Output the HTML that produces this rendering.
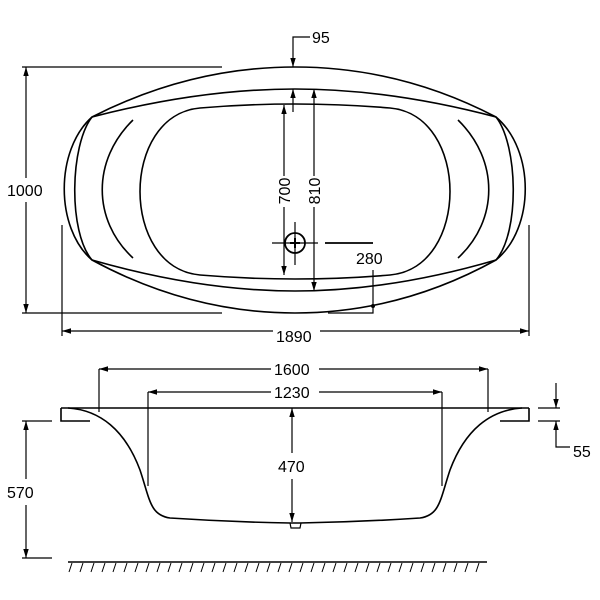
<!DOCTYPE html>
<html><head><meta charset="utf-8"><style>
html,body{margin:0;padding:0;background:#fff;}
svg{display:block}
text{font-family:"Liberation Sans",Arial,sans-serif;font-size:16px;fill:#000}
</style></head><body>
<svg width="600" height="600" viewBox="0 0 600 600" xmlns="http://www.w3.org/2000/svg">
<defs>
<marker id="a" viewBox="0 0 10 10" refX="10" refY="5" markerWidth="9" markerHeight="9" orient="auto-start-reverse" markerUnits="userSpaceOnUse"><path d="M0,2 L10,5 L0,8 z" fill="#000"/></marker>
</defs>
<g fill="none" stroke="#000" stroke-width="1.6">
<path d="M92,117 Q190,67 295,67 Q400,67 496,117 C535,150 535,228 496,260 Q400,313 295,313 Q190,313 92,260 C55,228 55,150 92,117 Z"/>
<path d="M92,117 C70,145 68,232 92,260"/>
<path d="M496,117 C518,145 520,232 496,260"/>
<path d="M92,117 Q200,89 295,89 Q390,89 496,117"/>
<path d="M92,260 Q200,291 295,291 Q390,291 496,260"/>
<path d="M133,120 C92,160 92,220 133,258"/>
<path d="M458,120 C499,160 499,220 458,258"/>
<path d="M200,108 Q295,100 390,108 C470,115 470,268 390,275 Q295,283 200,275 C120,268 120,115 200,108 Z"/>
</g>
<g stroke="#000" stroke-width="1.2" fill="none">
<polyline points="310,37 293,37 293,67" marker-end="url(#a)"/>
<line x1="293" y1="112" x2="293" y2="89" marker-end="url(#a)"/>
<line x1="284" y1="176" x2="284" y2="105" marker-end="url(#a)"/>
<line x1="284" y1="207" x2="284" y2="275" marker-end="url(#a)"/>
<line x1="314" y1="176" x2="314" y2="89" marker-end="url(#a)"/>
<line x1="314" y1="207" x2="314" y2="291" marker-end="url(#a)"/>
<circle cx="295" cy="243" r="10" stroke-width="1.8" fill="#fff"/>
<line x1="272" y1="243" x2="318" y2="243"/>
<line x1="295" y1="222" x2="295" y2="265"/>
<line x1="290" y1="243" x2="300" y2="243" stroke-width="2"/>
<line x1="295" y1="238" x2="295" y2="248" stroke-width="2"/>
<line x1="325" y1="243" x2="373" y2="243" stroke-width="1.8"/>
<polyline points="373,270 373,313 328,313"/>
<line x1="22" y1="67" x2="222" y2="67"/>
<line x1="22" y1="313" x2="222" y2="313"/>
<line x1="26" y1="178" x2="26" y2="67" marker-end="url(#a)"/>
<line x1="26" y1="202" x2="26" y2="313" marker-end="url(#a)"/>
<line x1="62" y1="225" x2="62" y2="336"/>
<line x1="529" y1="225" x2="529" y2="336"/>
<line x1="273" y1="331" x2="62" y2="331" marker-end="url(#a)"/>
<line x1="320" y1="331" x2="529" y2="331" marker-end="url(#a)"/>
</g>
<circle cx="373" cy="306" r="2" fill="#000"/>
<text x="312" y="43">95</text>
<text x="7" y="196">1000</text>
<text x="276" y="342">1890</text>
<text x="356" y="264">280</text>
<text transform="translate(290,191) rotate(-90)" text-anchor="middle">700</text>
<text transform="translate(320,191) rotate(-90)" text-anchor="middle">810</text>

<g fill="none" stroke="#000" stroke-width="1.6">
<line x1="61" y1="408" x2="529" y2="408"/>
<path d="M61,408 L61,421 L90,421"/>
<path d="M529,408 L529,421 L500,421"/>
<path d="M68,408 C100,410 125,430 140,470 C150,500 150,515 170,518 Q230,522 290,523 L300,523 Q360,522 420,518 C440,515 440,500 450,470 C465,430 490,410 522,408"/>
<path d="M290,523 L291,528 L300,528 L301,523" stroke-width="1.2"/>
</g>
<g stroke="#000" stroke-width="1.2" fill="none">
<line x1="99" y1="369" x2="99" y2="412"/>
<line x1="488" y1="369" x2="488" y2="412"/>
<line x1="271" y1="369" x2="99" y2="369" marker-end="url(#a)"/>
<line x1="319" y1="369" x2="488" y2="369" marker-end="url(#a)"/>
<line x1="148" y1="392" x2="148" y2="486"/>
<line x1="442" y1="392" x2="442" y2="486"/>
<line x1="271" y1="392" x2="148" y2="392" marker-end="url(#a)"/>
<line x1="319" y1="392" x2="442" y2="392" marker-end="url(#a)"/>
<line x1="292" y1="453" x2="292" y2="408" marker-end="url(#a)"/>
<line x1="292" y1="479" x2="292" y2="522" marker-end="url(#a)"/>
<line x1="22" y1="421" x2="52" y2="421"/>
<line x1="22" y1="558" x2="52" y2="558"/>
<line x1="26" y1="479" x2="26" y2="421" marker-end="url(#a)"/>
<line x1="26" y1="505" x2="26" y2="558" marker-end="url(#a)"/>
<line x1="538" y1="408" x2="560" y2="408"/>
<line x1="538" y1="421" x2="560" y2="421"/>
<line x1="556" y1="383" x2="556" y2="408" marker-end="url(#a)"/>
<polyline points="570,447 556,447 556,421" marker-end="url(#a)"/>
<line x1="68" y1="562" x2="487" y2="562" stroke-width="1.6"/>
</g>
<g stroke="#000" stroke-width="1">
<path d="M72,563 l-3,9 M83,563 l-3,9 M94,563 l-3,9 M105,563 l-3,9 M116,563 l-3,9 M127,563 l-3,9 M138,563 l-3,9 M149,563 l-3,9 M160,563 l-3,9 M171,563 l-3,9 M182,563 l-3,9 M193,563 l-3,9 M204,563 l-3,9 M215,563 l-3,9 M226,563 l-3,9 M237,563 l-3,9 M248,563 l-3,9 M259,563 l-3,9 M270,563 l-3,9 M281,563 l-3,9 M292,563 l-3,9 M303,563 l-3,9 M314,563 l-3,9 M325,563 l-3,9 M336,563 l-3,9 M347,563 l-3,9 M358,563 l-3,9 M369,563 l-3,9 M380,563 l-3,9 M391,563 l-3,9 M402,563 l-3,9 M413,563 l-3,9 M424,563 l-3,9 M435,563 l-3,9 M446,563 l-3,9 M457,563 l-3,9 M468,563 l-3,9 M479,563 l-3,9"/>
</g>
<text x="274" y="375">1600</text>
<text x="274" y="398">1230</text>
<text x="278" y="472">470</text>
<text x="7" y="498">570</text>
<text x="573" y="457">55</text>
</svg>
</body></html>
